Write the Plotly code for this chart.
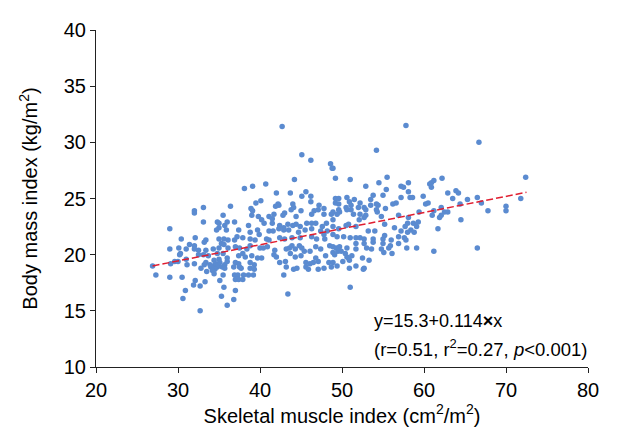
import plotly.graph_objects as go

# Skeletal muscle index (x) and BMI (y), by region
smi_a = [32.0,32.0,33.1,36.4,35.5,
         42.7,45.1,46.2,48.6,48.8,44.2,38.1,39.1,40.7,42.0,43.7,45.6,45.1,46.2,46.2,39.5,40.1,38.9,39.1,42.2,
         42.3,41.9,44.0,44.1,43.8,45.0,43.0,42.8,41.7,39.0,39.8,41.1,46.6,46.3,47.2,47.1,47.8,47.8,48.7,44.4]
bmi_a = [23.9,23.7,24.2,24.3,23.5,
         31.4,28.9,28.4,28.1,27.7,26.7,25.9,26.1,26.3,25.5,25.5,25.6,25.2,25.2,24.7,24.6,24.8,24.1,23.9,24.5,
         24.4,24.3,24.5,24.2,24.0,23.9,23.7,23.5,23.6,23.5,23.4,23.4,23.9,23.6,24.4,24.0,24.1,23.6,23.6,23.4]

smi_b = [57.8,54.2,48.9,49.2,51.0,55.5,54.5,52.9,57.2,57.5,58.1,60.7,55.4,53.8,55.0,53.5,58.1,58.3,58.6,57.2,
         59.9,50.6,49.2,49.6,51.5,50.9,51.1,49.2,49.6,52.2,52.0,52.7,52.9,53.5,54.2,54.4,56.2,56.6,50.5,51.1,
         49.6,49.7,50.6,48.9,54.2,54.3,55.3,54.8,51.4,52.2,52.9,56.9,60.2,60.5,59.4,49.4]
bmi_b = [31.5,29.3,27.7,26.8,26.7,26.9,26.4,26.1,26.1,26.0,26.4,26.3,25.8,25.3,25.3,24.9,25.6,25.1,25.1,25.1,
         25.2,25.1,25.0,25.0,24.9,24.7,24.4,24.6,24.5,24.6,24.2,24.2,24.0,24.4,24.5,24.4,24.5,24.6,24.2,24.0,
         24.0,23.8,24.0,23.8,24.0,23.8,24.1,23.4,23.6,23.6,23.5,23.5,24.5,24.6,23.8,23.6]

smi_c = [66.7,60.9,61.2,60.9,62.2,72.4,62.9,63.9,64.2,63.5,65.3,66.5,67.0,64.4,71.8,61.2,62.1,62.5,62.9,61.0,
         62.1,67.8,70.0,70.0,64.5,61.7,61.2,66.5,61.9]
bmi_c = [30.0,26.4,26.6,26.0,26.8,26.9,25.5,25.7,25.5,25.0,24.9,25.1,24.6,24.5,25.0,23.9,24.2,23.8,23.8,23.5,
         23.5,23.9,24.3,23.9,23.1,22.3,20.3,20.6,23.3]

smi_d = [33.1,34.8,35.0,35.7,36.0,36.9,29.0,35.0,34.7,35.9,
         30.4,32.1,33.4,33.2,31.4,32.0,35.0,35.6,35.3,35.6,36.1,36.9,
         29.0,30.1,31.0,32.0,32.5,33.4,34.3,35.0,36.1,
         30.3,30.2,32.5,33.1,33.7,34.8,35.5,36.0,35.0,34.4,
         26.9,29.1,29.6,30.0,31.0,31.1,32.0,33.4,33.2,33.9,
         34.3,34.6,34.8,34.5,34.9,34.0,34.2,
         35.1,35.4,35.7,36.0,36.8,35.7,32.8,33.5,34.4,35.5,
         27.3,29.0,30.5,32.1,31.9,33.3,32.7,35.1,35.6,36.9,
         36.8,35.3,30.9,30.6,36.0,32.7]
bmi_d = [22.9,22.9,22.8,22.6,22.9,22.9,22.3,22.4,22.2,22.2,
         21.4,21.5,21.3,21.1,20.9,20.8,21.4,21.4,21.0,20.9,21.3,21.3,
         20.5,20.6,20.5,20.5,20.4,20.4,20.5,20.6,20.6,
         20.1,20.0,20.0,20.0,19.9,20.1,20.1,19.7,19.6,19.5,
         19.0,19.2,19.4,19.4,19.6,19.1,19.2,19.3,19.1,19.1,
         19.0,19.2,18.9,18.7,19.1,18.9,18.6,
         19.3,18.9,19.1,19.4,18.9,18.8,18.8,18.5,18.3,18.2,
         18.2,18.0,18.0,17.7,17.3,17.6,17.2,17.7,17.1,18.2,
         16.0,16.3,16.8,16.1,15.5,15.0]

smi_e = [38.6,40.2,40.5,41.5,41.5,42.4,42.9,43.4,44.0,44.4,44.9,45.7,46.3,46.8,47.6,48.1,48.9,
         37.4,37.9,38.8,39.7,39.9,41.1,41.6,42.3,42.9,43.5,44.7,45.5,46.3,47.4,47.8,48.2,48.9,
         37.2,38.8,39.4,40.8,41.1,42.4,43.0,43.9,44.9,46.3,46.9,47.9,
         37.0,37.5,38.4,38.8,40.0,40.4,40.9,41.8,43.2,43.6,43.9,44.3,44.8,45.1,45.4,46.1,46.8,47.4,48.5,
         37.9,37.4,38.2,39.0,39.7,40.2,41.7,42.0,43.7,44.3,45.0,46.8,48.0,48.4,48.9,
         37.0,37.4,38.8,39.3,42.4,43.1,45.6,46.1,46.5,47.1,
         37.5,37.7,38.8,39.3,43.2,44.1,44.5,45.6,45.9,47.1,47.8,48.7,
         37.3,38.0,38.6,39.2,42.9,37.0,37.4,37.9,43.4,37.0]
bmi_e = [22.6,23.1,22.8,22.8,23.2,22.6,22.4,22.7,22.6,22.7,22.5,22.8,22.8,22.8,22.5,22.8,23.1,
         22.2,21.5,22.0,22.2,21.8,22.1,22.1,22.3,22.2,22.2,22.0,22.2,22.3,22.1,21.8,22.1,21.8,
         21.6,21.4,21.3,21.4,21.3,21.5,21.4,21.5,21.5,21.6,21.4,21.4,
         20.7,20.6,20.5,20.8,20.6,20.6,20.7,20.4,20.5,20.6,20.8,20.5,20.8,20.6,20.3,20.3,20.7,20.5,20.8,
         20.1,19.9,19.8,19.9,19.7,19.7,20.0,19.8,20.1,19.8,19.9,19.7,19.9,19.3,19.3,
         19.3,19.2,19.3,19.1,19.3,19.4,19.3,19.2,19.3,19.4,
         18.9,18.8,18.8,18.7,18.9,18.7,18.8,18.9,18.7,18.7,18.8,18.9,
         18.2,18.2,18.2,18.2,18.2,17.8,17.8,17.8,16.5,16.8]

smi_f = [48.9,49.6,50.5,50.8,51.7,52.1,52.7,53.2,54.0,55.2,56.4,57.2,57.7,58.0,58.1,58.7,59.3,59.1,58.4,58.0,58.8,
         49.4,50.2,51.0,51.7,52.2,52.7,53.8,55.0,55.2,56.0,56.9,57.6,57.8,
         51.7,52.7,53.8,55.0,55.9,56.9,
         48.9,49.3,49.7,49.5,49.9,50.6,51.7,53.0,53.6,54.8,55.1,55.7,56.1,57.9,59.1,
         48.9,49.1,50.4,50.6,51.2,50.8,52.5,53.3,49.4,50.1,50.9,51.7,50.9,52.7,52.6,51.0]
bmi_f = [22.5,22.3,22.6,22.7,22.5,23.1,23.3,22.1,22.1,22.7,22.4,22.1,22.5,22.8,23.3,22.8,22.9,22.5,22.2,22.0,22.0,
         21.6,21.6,21.5,21.5,21.5,21.4,21.4,21.4,21.7,21.3,21.6,21.5,21.3,
         21.0,21.0,21.1,21.0,20.8,21.0,
         20.7,20.6,20.7,20.3,20.3,20.6,20.5,20.6,20.5,20.5,20.2,20.6,20.1,20.6,20.6,
         20.2,20.0,20.1,19.8,19.9,19.7,19.7,19.5,19.0,19.4,19.5,19.0,18.8,18.8,18.7,17.1]

# Fitted line endpoints as drawn
fit_x = [26.9, 72.5]
fit_y = [19.0, 25.55]

smi = smi_a + smi_b + smi_c + smi_d + smi_e + smi_f
bmi = bmi_a + bmi_b + bmi_c + bmi_d + bmi_e + bmi_f

FONT = "Arial, Liberation Sans, sans-serif"

fig = go.Figure()
fig.add_trace(go.Scatter(x=smi, y=bmi, mode="markers",
                         marker=dict(size=5.5, color="#5b8bd0", line=dict(width=0)),
                         showlegend=False, hoverinfo="x+y"))
fig.add_trace(go.Scatter(x=fit_x, y=fit_y, mode="lines",
                         line=dict(color="#e01e30", width=1.5, dash="7px,3px"),
                         showlegend=False))

fig.add_annotation(x=53.6, y=14.1, xref="x", yref="y", xanchor="left", yanchor="middle",
                   text="y=15.3+0.114<b>×</b>x", showarrow=False,
                   font=dict(family=FONT, size=18, color="black"))
fig.add_annotation(x=53.6, y=11.7, xref="x", yref="y", xanchor="left", yanchor="middle",
                   text="(r=0.51, r<sup>2</sup>=0.27, <i>p</i>&lt;0.001)", showarrow=False,
                   font=dict(family=FONT, size=18.5, color="black"))

axis_common = dict(showgrid=False, zeroline=False, showline=True, linecolor="#222",
                   linewidth=1, ticks="outside", ticklen=5, tickcolor="#222",
                   ticklabeloverflow="allow",
                   tickfont=dict(family=FONT, size=20, color="black"))

fig.update_xaxes(range=[20, 80], dtick=10, tick0=20,
                 title=dict(text="Skeletal muscle index (cm<sup>2</sup>/m<sup>2</sup>)",
                            font=dict(family=FONT, size=20, color="black"), standoff=8),
                 **axis_common)
fig.update_yaxes(range=[10, 40], dtick=5, tick0=10,
                 title=dict(text="Body mass index (kg/m<sup>2</sup>)",
                            font=dict(family=FONT, size=20, color="black"), standoff=20),
                 **axis_common)

fig.update_layout(width=602, height=426, margin=dict(l=88, r=13, t=11, b=63),
                  plot_bgcolor="white", paper_bgcolor="white",
                  font=dict(family=FONT, color="black"))

fig.write_html("out.html")
